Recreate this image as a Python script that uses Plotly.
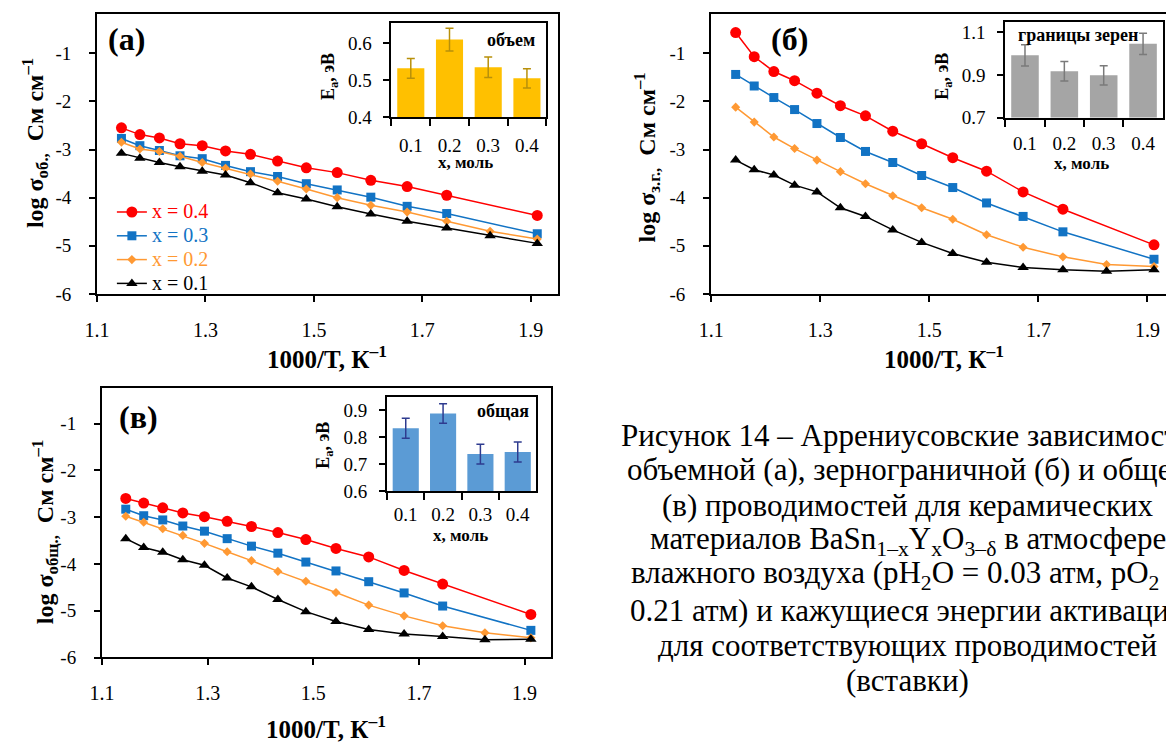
import plotly.graph_objects as go

W, H = 1166, 749
SERIF = "Liberation Serif"

# 1000/T, K^-1 (measurement temperatures 600 ... 250 °C)
inv_T = [1.145, 1.179, 1.215, 1.253, 1.294, 1.337, 1.383, 1.433, 1.486,
         1.543, 1.605, 1.672, 1.745, 1.825, 1.912]
inv_T_short = [1.145, 1.179, 1.215, 1.253, 1.294, 1.337, 1.383, 1.433, 1.486,
               1.543, 1.605, 1.672, 1.745, 1.912]

# (а) bulk conductivity, log σ
bulk_04 = [-2.55, -2.69, -2.76, -2.88, -2.92, -3.03, -3.10, -3.24, -3.38, -3.48, -3.64, -3.77, -3.95, -4.37]
bulk_03 = [-2.77, -2.92, -3.02, -3.13, -3.19, -3.33, -3.46, -3.56, -3.71, -3.84, -3.99, -4.18, -4.33, -4.75]
bulk_02 = [-2.85, -2.99, -3.04, -3.14, -3.27, -3.39, -3.51, -3.66, -3.82, -4.00, -4.16, -4.30, -4.49, -4.70, -4.86]
bulk_01 = [-3.08, -3.18, -3.27, -3.36, -3.45, -3.53, -3.69, -3.90, -4.03, -4.19, -4.34, -4.49, -4.63, -4.79, -4.95]

# (б) grain-boundary conductivity, log σ
gb_04 = [-0.57, -1.07, -1.38, -1.57, -1.83, -2.09, -2.30, -2.62, -2.88, -3.17, -3.45, -3.88, -4.24, -4.98]
gb_03 = [-1.44, -1.68, -1.92, -2.17, -2.46, -2.75, -3.04, -3.27, -3.54, -3.79, -4.11, -4.39, -4.71, -5.28]
gb_02 = [-2.12, -2.43, -2.74, -2.98, -3.22, -3.46, -3.71, -3.96, -4.21, -4.45, -4.77, -5.03, -5.23, -5.39, -5.43]
gb_01 = [-3.22, -3.42, -3.53, -3.74, -3.88, -4.21, -4.39, -4.67, -4.93, -5.16, -5.34, -5.45, -5.50, -5.53, -5.50]

# (в) total conductivity, log σ
tot_04 = [-2.60, -2.70, -2.80, -2.91, -2.99, -3.09, -3.20, -3.33, -3.48, -3.67, -3.85, -4.14, -4.43, -5.08]
tot_03 = [-2.83, -2.97, -3.06, -3.19, -3.30, -3.46, -3.62, -3.77, -3.96, -4.15, -4.38, -4.62, -4.90, -5.42]
tot_02 = [-2.98, -3.11, -3.25, -3.39, -3.56, -3.74, -3.93, -4.16, -4.37, -4.61, -4.88, -5.11, -5.32, -5.47, -5.58]
tot_01 = [-3.46, -3.65, -3.75, -3.91, -4.03, -4.30, -4.49, -4.76, -5.02, -5.23, -5.40, -5.50, -5.55, -5.62, -5.61]

# activation energies (insets), eV
x_mol = ["0.1", "0.2", "0.3", "0.4"]
Ea_bulk = [0.532, 0.610, 0.535, 0.505]
Ea_bulk_err = [0.027, 0.031, 0.028, 0.026]
Ea_gb = [0.992, 0.917, 0.898, 1.046]
Ea_gb_err = [0.050, 0.046, 0.045, 0.050]
Ea_tot = [0.833, 0.888, 0.737, 0.745]
Ea_tot_err = [0.037, 0.036, 0.037, 0.037]

x_ticks = [1.1, 1.3, 1.5, 1.7, 1.9]
x_ticktext = ["1.1", "1.3", "1.5", "1.7", "1.9"]
y_ticks = [-6, -5, -4, -3, -2, -1]
y_ticktext = ["-6", "-5", "-4", "-3", "-2", "-1"]

STYLE = {
    "0.4": dict(color="#FF0000", symbol="circle", size=11),
    "0.3": dict(color="#1273C4", symbol="square", size=9),
    "0.2": dict(color="#FF9933", symbol="diamond", size=7),
    "0.1": dict(color="#000000", symbol="triangle-up", size=10),
}


def dom_x(left, right):
    return [left / W, min(right / W, 1.0)]


def dom_y(top, bottom):
    return [1 - bottom / H, 1 - top / H]


fig = go.Figure()

panels = [
    ("x", "y", [(bulk_04, "0.4"), (bulk_03, "0.3"), (bulk_02, "0.2"), (bulk_01, "0.1")], True),
    ("x2", "y2", [(gb_04, "0.4"), (gb_03, "0.3"), (gb_02, "0.2"), (gb_01, "0.1")], False),
    ("x3", "y3", [(tot_04, "0.4"), (tot_03, "0.3"), (tot_02, "0.2"), (tot_01, "0.1")], False),
]
for xa, ya, series, legend_on in panels:
    for ys, comp in series:
        st = STYLE[comp]
        xs = inv_T if len(ys) == len(inv_T) else inv_T_short
        fig.add_trace(go.Scatter(
            x=xs, y=ys, xaxis=xa, yaxis=ya, mode="lines+markers",
            name=f'<span style="color:{st["color"]};font-size:20px">x = {comp}</span>',
            line=dict(color=st["color"], width=1.5),
            marker=dict(color=st["color"], symbol=st["symbol"], size=st["size"]),
            showlegend=legend_on, cliponaxis=False,
        ))

insets = [
    ("x4", "y4", Ea_bulk, Ea_bulk_err, "#FFC000", "#B8900A"),
    ("x5", "y5", Ea_gb, Ea_gb_err, "#A5A5A5", "#7A7A7A"),
    ("x6", "y6", Ea_tot, Ea_tot_err, "#5B9BD5", "#2E3B8F"),
]
for xa, ya, vals, errs, fill, ecol in insets:
    fig.add_trace(go.Bar(
        x=x_mol, y=vals, xaxis=xa, yaxis=ya, width=0.7,
        marker=dict(color=fill, line=dict(width=0)),
        error_y=dict(type="data", array=errs, color=ecol, thickness=1.5, width=4),
        showlegend=False,
    ))

main_x = dict(
    tickvals=x_ticks, ticktext=x_ticktext, showgrid=False, zeroline=False,
    showline=True, linecolor="black", linewidth=2, mirror=True,
    ticks="outside", ticklen=6, tickwidth=2, tickcolor="black",
    tickfont=dict(family=SERIF, size=20, color="black"), ticklabelstandoff=11,
)
main_y = dict(
    tickvals=y_ticks, ticktext=y_ticktext, showgrid=False, zeroline=False,
    showline=True, linecolor="black", linewidth=2, mirror=True,
    ticks="outside", ticklen=6, tickwidth=2, tickcolor="black",
    tickfont=dict(family=SERIF, size=19, color="black"), ticklabelstandoff=14,
)
inset_x = dict(
    type="category", showgrid=False, zeroline=False, tickson="boundaries",
    showline=True, linecolor="black", linewidth=2, mirror=True,
    ticks="outside", ticklen=7, tickwidth=2, tickcolor="black",
    tickfont=dict(family=SERIF, size=19, color="black"),
)
inset_y = dict(
    showgrid=False, zeroline=False,
    showline=True, linecolor="black", linewidth=2, mirror=True,
    ticks="outside", ticklen=6, tickwidth=2, tickcolor="black",
    tickfont=dict(family=SERIF, size=19, color="black"), ticklabelstandoff=8,
)

fig.update_layout(
    width=W, height=H, margin=dict(l=0, r=0, t=0, b=0),
    paper_bgcolor="white", plot_bgcolor="rgba(0,0,0,0)",
    font=dict(family=SERIF, color="black"),
    xaxis=dict(main_x, domain=dom_x(85, 551), range=[1.1, 1.95], anchor="y"),
    yaxis=dict(main_y, domain=dom_y(14, 298.3), range=[-6, -0.18], anchor="x"),
    xaxis2=dict(main_x, domain=dom_x(706, 1166), range=[1.1, 1.934], anchor="y2"),
    yaxis2=dict(main_y, domain=dom_y(14, 298.3), range=[-6, -0.18], anchor="x2", mirror=False),
    xaxis3=dict(main_x, domain=dom_x(90, 544), range=[1.1, 1.95], anchor="y3"),
    yaxis3=dict(main_y, domain=dom_y(393.3, 667.3), range=[-6, -0.23], anchor="x3"),
    xaxis4=dict(inset_x, domain=dom_x(382.7, 539.3), anchor="y4", ticklabelstandoff=10),
    yaxis4=dict(inset_y, domain=dom_y(23.3, 118.8), range=[0.4, 0.655], anchor="x4",
                tickvals=[0.4, 0.5, 0.6], ticktext=["0.4", "0.5", "0.6"]),
    xaxis5=dict(inset_x, domain=dom_x(1003.5, 1162.7), anchor="y5", ticklabelstandoff=8),
    yaxis5=dict(inset_y, domain=dom_y(22, 119.3), range=[0.7, 1.15], anchor="x5",
                tickvals=[0.7, 0.9, 1.1], ticktext=["0.7", "0.9", "1.1"]),
    xaxis6=dict(inset_x, domain=dom_x(378.3, 529.3), anchor="y6", ticklabelstandoff=5),
    yaxis6=dict(inset_y, domain=dom_y(402.7, 498.3), range=[0.6, 0.95], anchor="x6",
                tickvals=[0.6, 0.7, 0.8, 0.9], ticktext=["0.6", "0.7", "0.8", "0.9"]),
    legend=dict(x=100 / W, y=1 - 198 / H, xanchor="left", yanchor="top",
                bgcolor="rgba(0,0,0,0)", borderwidth=0,
                font=dict(family=SERIF, size=16, color="black"),
                tracegroupgap=0),
)


def note(text, cx, cy, size, bold=False, angle=0, color="black"):
    fig.add_annotation(
        text=f"<b>{text}</b>" if bold else text,
        x=cx / W, y=1 - cy / H, xref="paper", yref="paper",
        xanchor="center", yanchor="middle", showarrow=False, textangle=angle,
        font=dict(family=SERIF, size=size, color=color),
    )


# panel letters
note("(а)", 115, 40, 32, bold=True)
note("(б)", 785, 40, 32, bold=True)
note("(в)", 127, 423, 32, bold=True)

# main axis titles
note("log σ<sub>об.,</sub>  См см<sup>–1</sup>", 22.5, 145, 24, bold=True, angle=-90)
note("log σ<sub>з.г.,</sub>  См см<sup>–1</sup>", 641, 160, 24, bold=True, angle=-90)
note("log σ<sub>общ.,</sub>  См см<sup>–1</sup>", 32.5, 540, 24, bold=True, angle=-90)
note("1000/T, К<sup>–1</sup>", 318, 362, 25, bold=True)
note("1000/T, К<sup>–1</sup>", 941, 362, 25, bold=True)
note("1000/T, К<sup>–1</sup>", 317, 738, 25, bold=True)

# inset labels and titles
note("объем", 503.7, 41, 18, bold=True)
note("границы зерен", 1077, 36, 18, bold=True)
note("общая", 496, 417.5, 18, bold=True)
note("E<sub>a</sub>, эВ", 320.8, 78, 18, bold=True, angle=-90)
note("E<sub>a</sub>, эВ", 941, 77.5, 18, bold=True, angle=-90)
note("E<sub>a</sub>, эВ", 315, 452, 18, bold=True, angle=-90)
note("x, моль", 458, 165, 17, bold=True)
note("x, моль", 1081, 166, 17, bold=True)
note("x, моль", 453, 543, 17, bold=True)

# figure caption, centred lines running past the right edge
caption = [
    "Рисунок 14 – Аррениусовские зависимости",
    "объемной (а), зернограничной (б) и общей",
    "(в) проводимостей для керамических",
    "материалов BaSn<sub>1–x</sub>Y<sub>x</sub>O<sub>3–δ</sub> в атмосфере",
    "влажного воздуха (pH<sub>2</sub>O = 0.03 атм, pO<sub>2</sub> =",
    "0.21 атм) и кажущиеся энергии активации",
    "для соответствующих проводимостей",
    "(вставки)",
]
caption_y = [441.7, 476.7, 513.3, 549, 584, 620, 655, 691]
for line, cy in zip(caption, caption_y):
    note(line, 905, cy, 31)

fig.write_html("out.html")
